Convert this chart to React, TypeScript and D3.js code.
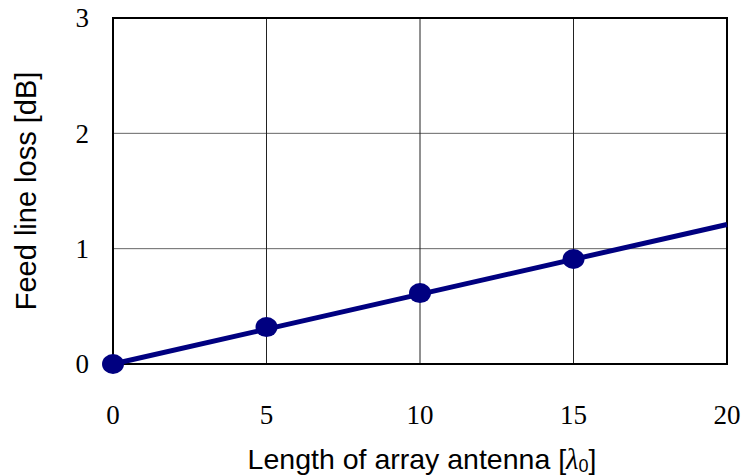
import * as d3 from "d3";

// array length in free-space wavelengths vs feed line loss
const lengths = [0, 5, 10, 15];
const losses = [0, 0.32, 0.615, 0.91];
// fitted line across the whole axis
const lineLengths = [0, 20];
const lineLosses = [0, 1.21];

const xTicks = [0, 5, 10, 15, 20];
const yTicks = [0, 1, 2, 3];

const W = 744;
const H = 475;
const margin = { top: 18, right: 17, bottom: 111, left: 113 };

export default function App() {
  const x = d3.scaleLinear().domain([0, 20]).range([margin.left, W - margin.right]);
  const y = d3.scaleLinear().domain([0, 3]).range([H - margin.bottom, margin.top]);

  const line = d3
    .line<number>()
    .x((d) => x(d))
    .y((_, i) => y(lineLosses[i]));

  const serif = "'Liberation Serif', 'Times New Roman', serif";
  const sans = "'Liberation Sans', Arial, sans-serif";

  return (
    <svg
      width={W}
      height={H}
      style={{ position: "absolute", left: 0, top: 0, background: "#fff" }}
    >
      {/* grid */}
      {yTicks.slice(1, -1).map((t) => (
        <line key={"gy" + t} x1={x(0)} x2={x(20)} y1={y(t)} y2={y(t)} stroke="#666" strokeWidth={1} />
      ))}
      {xTicks.slice(1, -1).map((t) => (
        <line key={"gx" + t} x1={x(t)} x2={x(t)} y1={y(0)} y2={y(3)} stroke="#222" strokeWidth={1} />
      ))}
      {/* frame */}
      <rect
        x={x(0)}
        y={y(3)}
        width={x(20) - x(0)}
        height={y(0) - y(3)}
        fill="none"
        stroke="#000"
        strokeWidth={2}
      />

      {/* y tick labels */}
      {yTicks.map((t) => (
        <text key={"ty" + t} x={89} y={y(t)} dy="0.34em" textAnchor="end" fontFamily={serif} fontSize={27}>
          {t}
        </text>
      ))}
      {/* x tick labels */}
      {xTicks.map((t) => (
        <text key={"tx" + t} x={x(t)} y={424} textAnchor="middle" fontFamily={serif} fontSize={27}>
          {t}
        </text>
      ))}

      {/* series */}
      <path d={line(lineLengths) ?? ""} fill="none" stroke="#000080" strokeWidth={5} />
      {lengths.map((d, i) => (
        <ellipse key={"p" + i} cx={x(d)} cy={y(losses[i])} rx={11} ry={10} fill="#000080" />
      ))}

      {/* axis titles */}
      <text x={422} y={469} textAnchor="middle" fontFamily={sans} fontSize={28.5}>
        Length of array antenna [<tspan fontStyle="italic" fontFamily={serif}>λ</tspan>
        <tspan fontSize={18} dy={3}>0</tspan>
        <tspan dy={-3}>]</tspan>
      </text>
      <text
        transform={`translate(36,${191}) rotate(-90)`}
        textAnchor="middle"
        fontFamily={sans}
        fontSize={29}
      >
        Feed line loss [dB]
      </text>
    </svg>
  );
}
